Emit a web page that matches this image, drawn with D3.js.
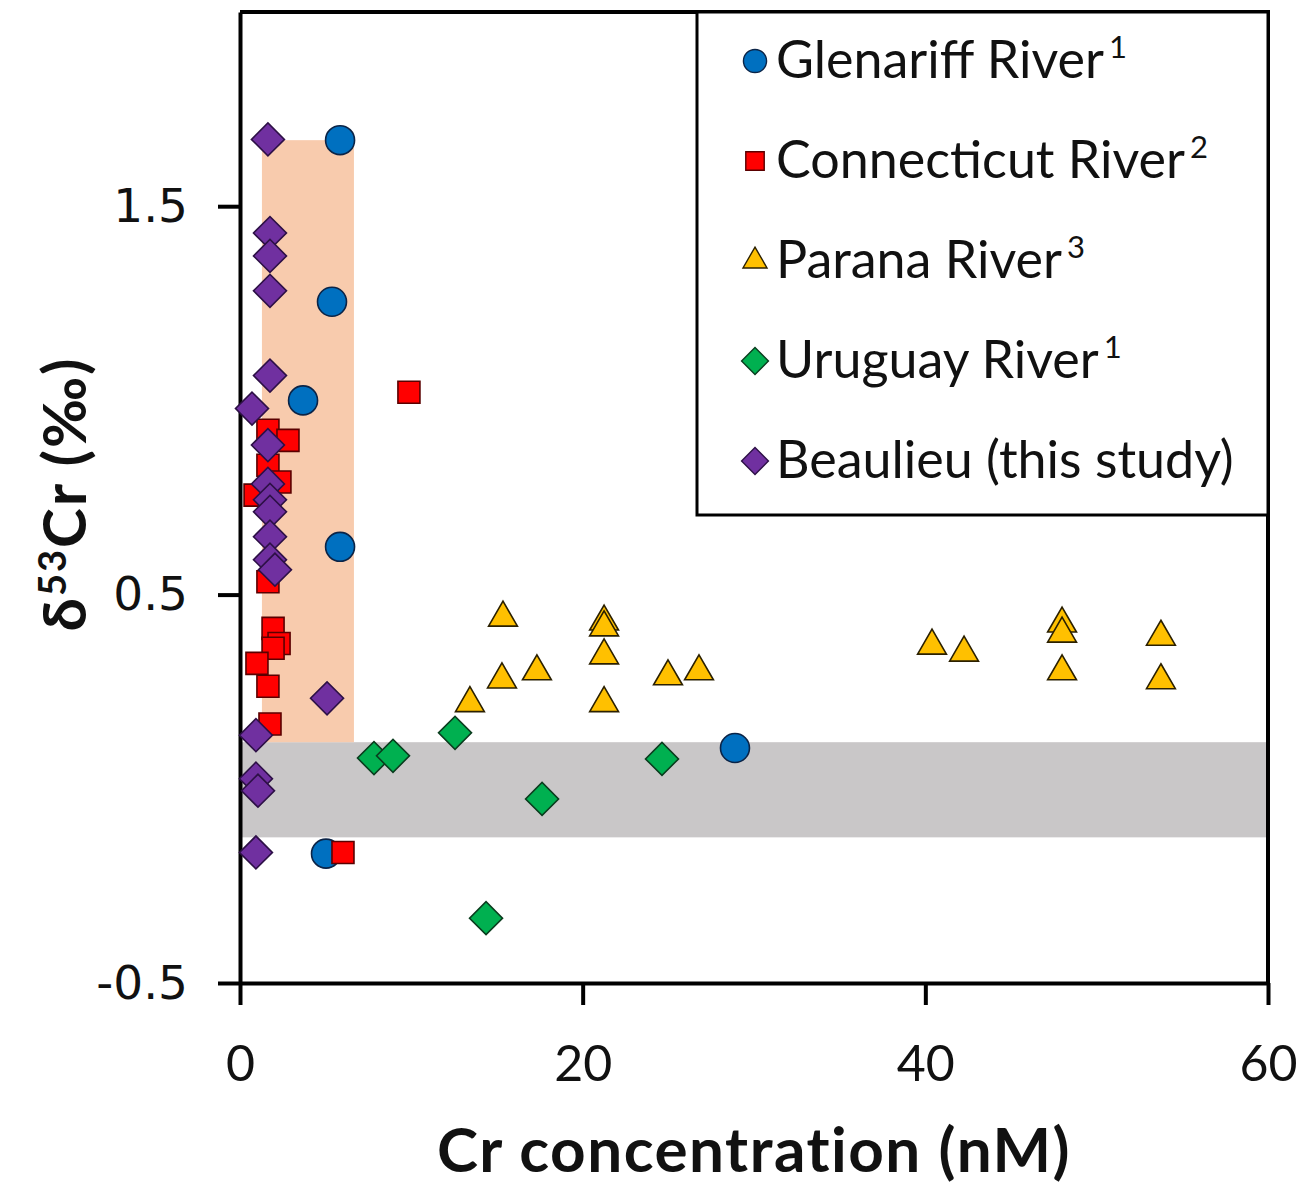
<!DOCTYPE html>
<html>
<head>
<meta charset="utf-8">
<script src="https://cdn.jsdelivr.net/npm/d3@7"></script>
<style>
  html, body { margin: 0; padding: 0; background: #fff; }
  svg { display: block; }
</style>
</head>
<body>
<svg id="chart" width="1300" height="1190"></svg>
<script>
// ---- data: [Cr nM, d53Cr permil] ----
const glenariff = [
  [5.84, 1.67], [5.37, 1.254], [3.68, 1.0], [5.84, 0.623], [5.02, -0.167], [28.89, 0.105],
];
const connecticut = [
  [9.86, 1.021], [1.63, 0.923], [2.8, 0.897], [1.63, 0.833], [2.33, 0.79], [0.88, 0.756],
  [1.63, 0.533], [1.93, 0.413], [2.28, 0.374], [1.93, 0.362], [0.99, 0.323], [1.63, 0.264],
  [1.75, 0.167], [6.01, -0.164],
];
const parana = [
  [15.35, 0.446], [21.25, 0.436], [21.25, 0.421], [21.25, 0.349], [15.29, 0.287], [17.33, 0.308],
  [13.42, 0.226], [21.25, 0.226], [24.98, 0.295], [26.79, 0.308], [40.39, 0.374], [42.26, 0.356],
  [47.98, 0.431], [47.98, 0.405], [47.98, 0.308], [53.75, 0.397], [53.75, 0.285],
];
const uruguay = [
  [7.82, 0.079], [8.93, 0.085], [12.55, 0.144], [17.63, -0.026], [14.36, -0.333], [24.63, 0.077],
];
const beaulieu = [
  [1.63, 1.672], [1.75, 1.431], [1.75, 1.372], [1.75, 1.282], [1.75, 1.064], [0.7, 0.979],
  [1.63, 0.885], [1.63, 0.785], [1.75, 0.744], [1.75, 0.713], [1.75, 0.649], [1.75, 0.59],
  [2.04, 0.564], [5.08, 0.233], [0.93, 0.138], [0.93, 0.026], [1.05, -0.005], [0.93, -0.164],
];

// shaded ranges
const greyBandY = [-0.125, 0.12];
const orangeBandX = [1.28, 6.65];
const orangeBandY = [0.12, 1.67];

const xTicks = [0, 20, 40, 60];
const yTicks = [-0.5, 0.5, 1.5];

const seriesNames = ['Glenariff River', 'Connecticut River', 'Parana River', 'Uruguay River', 'Beaulieu (this study)'];
const seriesRefs = ['1', '2', '3', '1', ''];

// ---- layout ----
const margin = { top: 12, right: 32, bottom: 207, left: 240 };
const width = 1300;
const height = 1190;

const svg = d3.select('#chart');

const x = d3.scaleLinear().domain([0, 60]).range([margin.left, width - margin.right]);
const y = d3.scaleLinear().domain([-0.5, 2.0]).range([height - margin.bottom, margin.top]);

const styles = [
  { shape: 'circle', fill: '#0070C0', stroke: '#0B2447', size: 660, lsize: 420 },
  { shape: 'square', fill: '#FF0000', stroke: '#5A0000', size: 484, lsize: 340 },
  { shape: 'triangle', fill: '#FFC000', stroke: '#2B2000', size: 360, lsize: 250 },
  { shape: 'diamond', fill: '#00B050', stroke: '#0A3D1E', size: 544, lsize: 360 },
  { shape: 'diamond', fill: '#7030A0', stroke: '#2D1046', size: 544, lsize: 360 },
];

// shape path for a marker, diamonds are rotated squares
const markerPath = (st, size) => {
  const type = st.shape === 'circle' ? d3.symbolCircle
    : st.shape === 'triangle' ? d3.symbolTriangle : d3.symbolSquare;
  return d3.symbol().type(type).size(size)();
};
const markerTransform = (st, px, py) => {
  // excel centres the triangle on its box, not its centroid
  const dy = st.shape === 'triangle' ? Math.sqrt(st.size) * 0.12 : 0;
  const rot = st.shape === 'diamond' ? ' rotate(45)' : '';
  return `translate(${px},${py + dy})${rot}`;
};

// ---- bands ----
svg.append('rect')
  .attr('x', x(0))
  .attr('y', y(greyBandY[1]))
  .attr('width', x(60) - x(0))
  .attr('height', y(greyBandY[0]) - y(greyBandY[1]))
  .attr('fill', '#C9C7C8');

svg.append('rect')
  .attr('x', x(orangeBandX[0]))
  .attr('y', y(orangeBandY[1]))
  .attr('width', x(orangeBandX[1]) - x(orangeBandX[0]))
  .attr('height', y(orangeBandY[0]) - y(orangeBandY[1]))
  .attr('fill', '#F8CBAD');

// ---- axes ----
const xAxis = svg.append('g')
  .attr('transform', `translate(0,${y(-0.5)})`)
  .call(d3.axisBottom(x).tickValues(xTicks).tickSize(22).tickPadding(40).tickSizeOuter(0));
xAxis.selectAll('text')
  .attr('font-family', 'Lato, sans-serif')
  .attr('font-size', 50)
  .attr('fill', '#111');

const yAxis = svg.append('g')
  .attr('transform', `translate(${x(0)},0)`)
  .call(d3.axisLeft(y).tickValues(yTicks).tickFormat(d => d.toFixed(1)).tickSize(22).tickPadding(30).tickSizeOuter(0));
yAxis.selectAll('text')
  .attr('font-family', '"DejaVu Sans", Verdana, sans-serif')
  .attr('font-size', 47)
  .attr('fill', '#111');

svg.selectAll('.domain, .tick line')
  .attr('stroke', '#000')
  .attr('stroke-width', 4);

// frame top and right
svg.append('path')
  .attr('d', `M${x(0)},${y(2)}H${x(60)}V${y(-0.5)}`)
  .attr('fill', 'none')
  .attr('stroke', '#000')
  .attr('stroke-width', 4);

// ---- points ----
const allSeries = [glenariff, connecticut, parana, uruguay, beaulieu];
allSeries.forEach((data, i) => {
  const st = styles[i];
  svg.append('g')
    .selectAll('path')
    .data(data)
    .join('path')
    .attr('d', markerPath(st, st.size))
    .attr('transform', d => markerTransform(st, x(d[0]), y(d[1])))
    .attr('fill', st.fill)
    .attr('stroke', st.stroke)
    .attr('stroke-width', 1.6);
});

// ---- legend ----
const legend = svg.append('g');
legend.append('rect')
  .attr('x', 697)
  .attr('y', 12)
  .attr('width', x(60) - 697)
  .attr('height', 503)
  .attr('fill', '#fff')
  .attr('stroke', '#000')
  .attr('stroke-width', 3);

const rows = legend.selectAll('g.row')
  .data(seriesNames)
  .join('g')
  .attr('class', 'row')
  .attr('transform', (d, i) => `translate(0,${78 + i * 100})`);

rows.append('path')
  .attr('d', (d, i) => markerPath(styles[i], styles[i].lsize))
  .attr('transform', (d, i) => {
    const st = styles[i];
    const rot = st.shape === 'diamond' ? ' rotate(45)' : '';
    return `translate(755,-17)${rot}`;
  })
  .attr('fill', (d, i) => styles[i].fill)
  .attr('stroke', (d, i) => styles[i].stroke)
  .attr('stroke-width', 1.4);

const label = rows.append('text')
  .attr('x', 776)
  .attr('font-family', 'Lato, sans-serif')
  .attr('font-size', 52)
  .attr('fill', '#111');
label.append('tspan').text(d => d);
label.append('tspan')
  .attr('dx', 5)
  .attr('dy', -20)
  .attr('font-size', 31)
  .text((d, i) => seriesRefs[i]);

// ---- titles ----
svg.append('text')
  .attr('x', (x(0) + x(60)) / 2)
  .attr('y', 1172)
  .attr('text-anchor', 'middle')
  .attr('font-family', 'Lato, sans-serif')
  .attr('font-weight', 'bold')
  .attr('font-size', 62)
  .attr('letter-spacing', 1.5)
  .attr('fill', '#111')
  .text('Cr concentration (nM)');

const yTitle = svg.append('text')
  .attr('transform', 'translate(86,494) rotate(-90)')
  .attr('text-anchor', 'middle')
  .attr('font-family', 'Lato, sans-serif')
  .attr('font-weight', 'bold')
  .attr('font-size', 60)
  .attr('letter-spacing', 2)
  .attr('fill', '#111');
yTitle.append('tspan').text('δ');
yTitle.append('tspan').attr('dy', -20).attr('font-size', 38).text('53');
yTitle.append('tspan').attr('dy', 20).text('Cr (‰)');
</script>
</body>
</html>
